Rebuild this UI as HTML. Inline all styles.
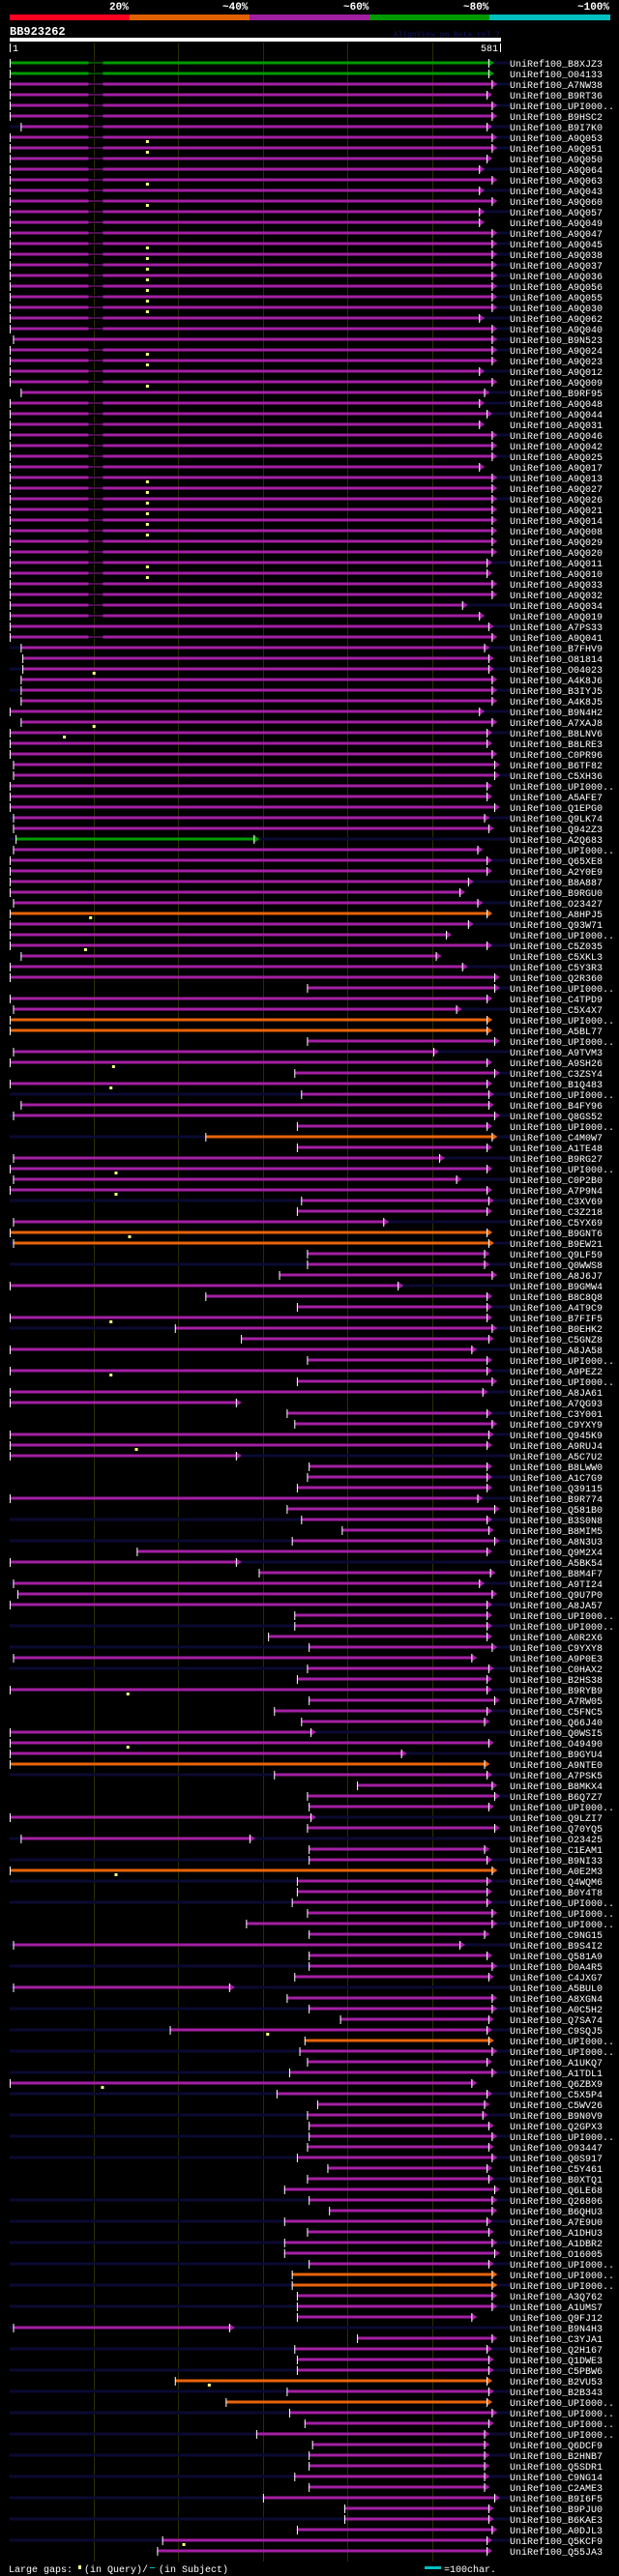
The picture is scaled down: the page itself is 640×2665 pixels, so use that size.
<!DOCTYPE html>
<html><head><meta charset="utf-8"><style>
html,body{margin:0;padding:0;background:#000;}
svg{display:block;}
text{font-family:"Liberation Mono",monospace;}
</style></head><body>
<svg id="chart" width="640" height="2665" viewBox="0 0 640 2665" xmlns="http://www.w3.org/2000/svg">
<rect x="0" y="0" width="640" height="2665" fill="#000"/>
<g>
<text x="113" y="10" fill="#fff" font-size="11" font-weight="bold">20%</text>
<text x="230" y="10" fill="#fff" font-size="11" font-weight="bold">~40%</text>
<text x="355" y="10" fill="#fff" font-size="11" font-weight="bold">~60%</text>
<text x="479" y="10" fill="#fff" font-size="11" font-weight="bold">~80%</text>
<text x="597" y="10" fill="#fff" font-size="11" font-weight="bold">~100%</text>
<rect x="10" y="15" width="124" height="6" fill="#ff0022"/>
<rect x="134" y="15" width="124" height="6" fill="#e06000"/>
<rect x="258" y="15" width="124" height="6" fill="#a01ea0"/>
<rect x="382" y="15" width="124" height="6" fill="#009900"/>
<rect x="506" y="15" width="125" height="6" fill="#00c0c0"/>
</g>
<text x="10" y="36" fill="#fff" font-size="12" font-weight="bold">BB923262</text>
<text x="517" y="38" fill="#10104a" font-size="8" text-anchor="end" font-weight="bold">AlignView.pm Beta rel.7</text>
<rect x="10" y="39" width="508" height="4" fill="#fff"/>
<rect x="10" y="45" width="1" height="9" fill="#fff"/>
<text x="13" y="53" fill="#fff" font-size="10">1</text>
<text x="515" y="53" fill="#fff" font-size="10" text-anchor="end">581</text>
<rect x="517" y="45" width="1" height="9" fill="#fff"/>
<g id="grid"></g>
<g id="rows"></g>
<g>
<text x="9" y="2661" fill="#fff" font-size="10">Large gaps:</text>
<rect x="81" y="2654" width="3" height="4" fill="#ffff80"/>
<text x="87" y="2661" fill="#fff" font-size="10">(in Query)/</text>
<rect x="155" y="2656" width="5" height="1" fill="#00c0c0"/>
<text x="164" y="2661" fill="#fff" font-size="10">(in Subject)</text>
<rect x="439" y="2655" width="17" height="3" fill="#00c0c0"/>
<text x="459" y="2661" fill="#fff" font-size="10">=100char.</text>
</g>
</svg>
<script>
const queryLength = 581;
const gridTicks = [100, 200, 300, 400, 500];
const names = "B8XJZ3 O04133 A7NW38 B9RT36 UPI000.. B9HSC2 B9I7K0 A9Q053 A9Q051 A9Q050 A9Q064 A9Q063 A9Q043 A9Q060 A9Q057 A9Q049 A9Q047 A9Q045 A9Q038 A9Q037 A9Q036 A9Q056 A9Q055 A9Q030 A9Q062 A9Q040 B9N523 A9Q024 A9Q023 A9Q012 A9Q009 B9RF95 A9Q048 A9Q044 A9Q031 A9Q046 A9Q042 A9Q025 A9Q017 A9Q013 A9Q027 A9Q026 A9Q021 A9Q014 A9Q008 A9Q029 A9Q020 A9Q011 A9Q010 A9Q033 A9Q032 A9Q034 A9Q019 A7PS33 A9Q041 B7FHV9 O81814 O04023 A4K8J6 B3IYJ5 A4K8J5 B9N4H2 A7XAJ8 B8LNV6 B8LRE3 C0PR96 B6TF82 C5XH36 UPI000.. A5AFE7 Q1EPG0 Q9LK74 Q942Z3 A2Q683 UPI000.. Q65XE8 A2Y0E9 B8A887 B9RGU0 O23427 A8HPJ5 Q93W71 UPI000.. C5Z035 C5XKL3 C5Y3R3 Q2R360 UPI000.. C4TPD9 C5X4X7 UPI000.. A5BL77 UPI000.. A9TVM3 A9SH26 C3ZSY4 B1Q483 UPI000.. B4FY96 Q8GS52 UPI000.. C4M0W7 A1TE48 B9RG27 UPI000.. C0P2B0 A7P9N4 C3XV69 C3Z218 C5YX69 B9GNT6 B9EW21 Q9LF59 Q0WWS8 A8J6J7 B9GMW4 B8C8Q8 A4T9C9 B7FIF5 B0EHK2 C5GNZ8 A8JA58 UPI000.. A9PEZ2 UPI000.. A8JA61 A7QG93 C3Y001 C9YXY9 Q945K9 A9RUJ4 A5C7U2 B8LWW0 A1C7G9 Q39115 B9R774 Q581B0 B3S0N8 B8MIM5 A8N3U3 Q9M2X4 A5BK54 B8M4F7 A9TI24 Q9U7P0 A8JA57 UPI000.. UPI000.. A0R2X6 C9YXY8 A9P0E3 C0HAX2 B2HS38 B9RYB9 A7RW05 C5FNC5 Q66J40 Q0WSI5 O49490 B9GYU4 A9NTE0 A7PSK5 B8MKX4 B6Q7Z7 UPI000.. Q9LZI7 Q70YQ5 O23425 C1EAM1 B9NI33 A0E2M3 Q4WQM6 B0Y4T8 UPI000.. UPI000.. UPI000.. C9NG15 B9S4I2 Q581A9 D0A4R5 C4JXG7 A5BUL0 A8XGN4 A0C5H2 Q7SA74 C9SQJ5 UPI000.. UPI000.. A1UKQ7 A1TDL1 Q6ZBX9 C5X5P4 C5WV26 B9N0V9 Q2GPX3 UPI000.. O93447 Q0S917 C5Y461 B0XTQ1 Q6LE68 Q26806 B6QHU3 A7E9U0 A1DHU3 A1DBR2 O16005 UPI000.. UPI000.. UPI000.. A3Q762 A1UMS7 Q9FJ12 B9N4H3 C3YJA1 Q2H167 Q1DWE3 C5PBW6 B2VU53 B2B343 UPI000.. UPI000.. UPI000.. UPI000.. Q6DCF9 B2HNB7 Q5SDR1 C9NG14 C2AME3 B9I6F5 B9PJU0 B6KAE3 A0DJL3 Q5KCF9 Q55JA3".split(" ");
const starts = [1,1,1,1,1,1,14,1,1,1,1,1,1,1,1,1,1,1,1,1,1,1,1,1,1,1,5,1,1,1,1,14,1,1,
1,1,1,1,1,1,1,1,1,1,1,1,1,1,1,1,1,1,1,1,1,14,16,16,14,14,14,1,14,1,1,1,5,
5,1,1,1,5,5,8,5,1,1,1,1,5,1,1,1,1,14,1,1,352,1,5,1,1,352,5,1,337,1,345,14,5,340,
232,340,5,1,5,1,345,340,5,1,5,352,352,319,1,232,340,1,196,274,1,352,1,340,1,1,328,337,1,1,1,354,352,340,
1,328,345,393,334,151,1,295,5,10,1,337,337,306,354,5,352,340,1,354,313,345,1,1,1,1,313,411,352,354,1,352,14,
354,354,1,340,340,334,352,280,354,5,354,354,337,5,328,354,391,190,349,343,352,331,1,316,364,352,354,354,352,340,376,352,325,354,
378,325,352,325,325,354,334,334,340,340,340,5,411,337,340,340,196,328,256,331,349,292,358,354,354,337,354,300,396,396,340,181,175];
const ends = [566,566,570,564,570,570,564,570,570,564,555,570,555,570,555,555,570,570,570,570,570,570,570,570,555,570,570,570,570,555,570,561,555,564,
555,570,570,570,555,570,570,570,570,570,570,570,570,564,564,570,570,535,555,566,570,561,566,566,570,570,570,555,570,564,564,570,573,
573,564,564,573,561,566,289,553,564,564,542,532,553,564,542,516,564,504,535,573,573,564,528,564,564,573,501,564,573,564,566,566,573,564,
570,564,508,564,528,564,566,564,442,564,566,561,561,570,459,564,564,564,570,566,546,564,564,570,559,268,564,570,566,564,268,564,564,564,
553,573,564,566,573,564,268,568,555,570,564,564,564,564,570,546,566,564,564,573,564,561,356,566,463,561,564,570,573,566,356,573,284,
561,564,570,564,564,564,570,570,561,532,564,570,566,260,570,570,566,564,566,570,564,570,546,564,561,559,566,570,566,570,564,566,573,570,
570,564,566,570,573,566,570,570,570,570,546,260,570,564,566,566,564,566,564,570,566,561,561,561,561,561,561,573,566,566,570,564,564];
const colorRows = {g:[0,1,73], o:[80,90,91,101,110,111,160,170,186,208,209,218,220]};
const overhang = "1010103110101010111111111311010111010101010000010001010303030301000100030301010101030101010201010303030101030103030301030303030103030103030303030303030303010303030101030303030103030303030303030303030103030303030303030303030303030303030303030303030303030";
const gapRows = [0,1,2,3,4,5,6,7,8,9,10,11,12,13,14,15,16,17,18,19,20,21,22,23,24,25,27,28,29,30,32,33,34,35,36,37,38,39,40,41,42,43,44,45,46,47,48,49,50,51,52,54];
const gapFrom = 94, gapTo = 111;
const markerRows = [7,8,11,13,17,18,19,20,21,22,23,27,28,30,39,40,41,42,43,44,47,48,57,62,63,80,83,94,96,104,106,110,118,123,130,153,158,170,185,190,218,233];
const markerPos = [163,163,163,163,163,163,163,163,163,163,163,163,163,163,163,163,163,163,163,163,163,163,100,100,65,96,90,123,120,126,126,142,120,120,150,140,140,126,305,110,236,206];

const NS = "http://www.w3.org/2000/svg";
const X0 = 10, X1 = 518;
function xScale(r){ return X0 + (r - 1) * (X1 - X0) / (queryLength - 1); }
function yRow(i){ return 65 + 11 * i; }
const COL = {m:"#a41fa4", g:"#009a00", o:"#e8640a"};
function rowColor(i){
  if (colorRows.g.indexOf(i) >= 0) return COL.g;
  if (colorRows.o.indexOf(i) >= 0) return COL.o;
  return COL.m;
}
function mk(tag, attrs, parent){
  const el = document.createElementNS(NS, tag);
  for (const k in attrs) el.setAttribute(k, attrs[k]);
  parent.appendChild(el);
  return el;
}
const grid = document.getElementById("grid");
gridTicks.forEach(function(t){
  const gx = Math.round(xScale(t));
  const ln = mk("rect", {x: gx, y: 44, width: 1, height: 2606, fill: "#2c2c00"}, grid);
  
  
});
const rowsG = document.getElementById("rows");
for (let i = 0; i < names.length; i++){
  const y = yRow(i);
  const sx = xScale(starts[i]);
  const ex = xScale(ends[i]);
  const col = rowColor(i);
  const ov = overhang.charAt(i);
  const g = mk("g", {}, rowsG);
  
  
  if (ov === "2" || ov === "3"){
    const l = mk("rect", {x: X0, y: y - 1.5, width: Math.max(0, sx - X0), height: 3, fill: "#0a0a32"}, g);
    
    
  }
  if (ov === "1" || ov === "3"){
    const r = mk("rect", {x: ex + 4, y: y - 1.5, width: Math.max(0, 527 - ex - 4), height: 3, fill: "#0a0a32"}, g);
    
    
  }
  const bar = mk("rect", {x: sx, y: y - 1.5, width: ex - sx, height: 3, fill: col}, g);
  
  
  if (gapRows.indexOf(i) >= 0 && starts[i] < gapFrom){
    const gx1 = xScale(gapFrom), gx2 = xScale(gapTo);
    mk("rect", {x: gx1, y: y - 1.5, width: gx2 - gx1, height: 3, fill: "#000"}, g);
    const thin = mk("rect", {x: gx1, y: y - 0.5, width: gx2 - gx1, height: 1, fill: col}, g);
    
    
  }
  const tick = mk("rect", {x: sx, y: y - 4, width: 1, height: 9, fill: "#fff"}, g);
  
  
  const arrow = mk("polygon", {points: ex + "," + (y - 4) + " " + (ex + 6) + "," + y + " " + ex + "," + (y + 4), fill: col}, g);
  
  
  mk("rect", {x: ex, y: y - 4, width: 1, height: 9, fill: "#fff"}, g);
  const label = mk("text", {x: 527, y: y + 4, fill: "#fff", "font-size": 10}, g);
  label.textContent = "UniRef100_" + names[i];
  
  
}
for (let k = 0; k < markerRows.length; k++){
  const i = markerRows[k];
  const mx = xScale(markerPos[k]);
  const y = yRow(i);
  const m = mk("rect", {x: mx - 1, y: y + 3, width: 3, height: 3, fill: "#ffff80"}, rowsG);
  
  
}
</script>
</body></html>
